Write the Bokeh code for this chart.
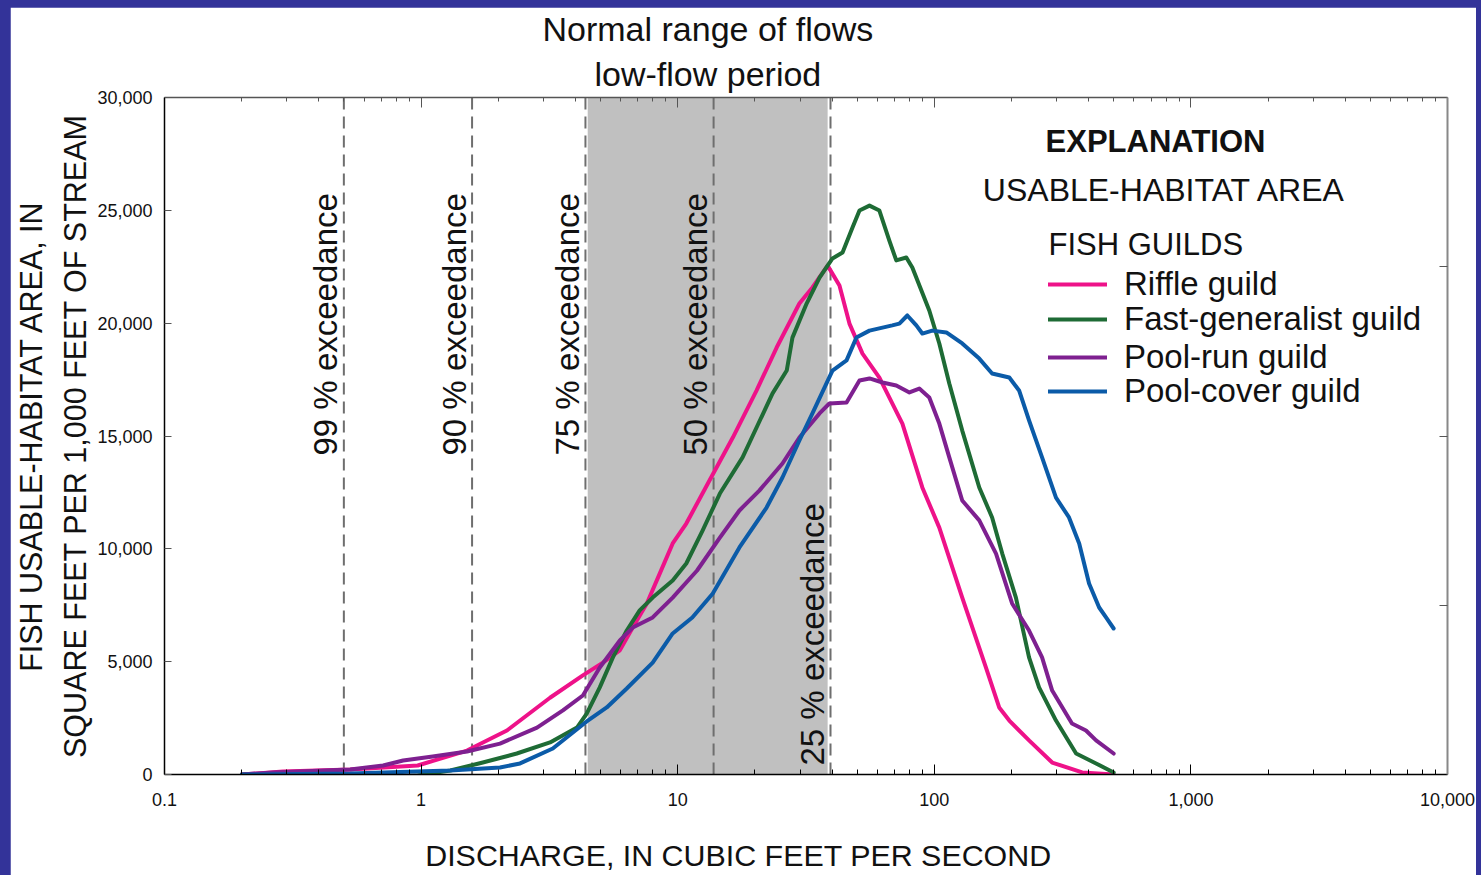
from math import pi
from bokeh.plotting import figure
from bokeh.layouts import column
from bokeh.models import (Range1d, LogAxis, LinearAxis, FixedTicker, NumeralTickFormatter,
                          CustomJSTickFormatter, Span, BoxAnnotation, Label, Legend, LegendItem, Title)
from bokeh.embed import file_html
from bokeh.resources import INLINE

# ---------------- data ----------------
riffle_q = [0.2, 0.29, 0.53, 0.97, 1.51, 2.16, 3.18, 4.27, 5.11, 5.95, 6.68, 7.58, 8.51, 9.56, 10.8,
            13.3, 16.4, 20.3, 24.3, 29.8, 33.5, 38.4, 42.7, 46.7, 52.5, 61.1, 75.1, 89.8, 104.6,
            128.5, 159, 179, 196, 234, 288, 377, 500]
riffle_area = [0, 130, 220, 400, 1060, 1950, 3400, 4390, 4960, 5500, 6510, 7580, 8900, 10240, 11120,
               13030, 14930, 17020, 18920, 20870, 21580, 22550, 21670, 19980, 18650, 17590, 15550, 12720, 10940,
               7840, 4740, 2970, 2390, 1510, 530, 90, 0]

fastgen_q = [0.2, 0.34, 0.63, 0.81, 0.97, 1.30, 1.74, 2.36, 3.18, 4.05, 4.42, 4.97, 5.59, 6.33, 7.11, 7.99,
             9.56, 10.8, 12.5, 14.6, 17.9, 23.4, 26.6, 28.0, 31.8, 35.7, 40.1, 43.9, 48.0, 51.1, 55.9,
             61.1, 66.8, 71.1, 77.8, 82.1, 95.6, 104.6, 114.4, 128.5, 149.7, 168, 184, 208, 234, 256,
             298, 357, 427, 500]
fastgen_area = [0, 0, -70, -120, -40, 180, 530, 930, 1420, 2080, 2700, 3860, 5190, 6380, 7270, 7840,
                8600, 9350, 10810, 12450, 14050, 16880, 17900, 19360, 20870, 22020, 22870, 23130, 24240, 24990, 25210,
                24990, 23660, 22780, 22910, 22470, 20560, 19100, 17330, 15240, 12720, 11390, 9790, 7840, 5190, 3860,
                2390, 930, 490, 90]

poolrun_q = [0.2, 0.266, 0.529, 0.711, 0.851, 1.11, 1.51, 2.03, 2.83, 3.57, 4.27, 4.97, 5.95, 6.68, 7.99,
             9.56, 11.9, 14.6, 17.4, 20.8, 25.6, 29.8, 35.7, 39.0, 45.5, 51.1, 55.9, 62.8, 71.1, 80.0,
             87.4, 95.6, 104.6, 114.4, 128.5, 149.7, 174, 201, 234, 263, 288, 344, 390, 427, 500]
poolrun_area = [0, 90, 220, 400, 620, 800, 1020, 1370, 2080, 2840, 3500, 4740, 5940, 6510, 6960,
                7840, 9040, 10500, 11700, 12580, 13780, 14930, 16000, 16440, 16480, 17460, 17550, 17370, 17240, 16930,
                17100, 16710, 15550, 14050, 12140, 11260, 9790, 7580, 6380, 5190, 3720, 2260, 1950, 1510, 930]

poolcover_q = [0.2, 0.529, 1.30, 2.03, 2.43, 3.26, 4.42, 5.29, 6.33, 7.99, 9.56, 11.4, 13.7, 17.4, 22.2,
               25.6, 29.8, 33.5, 38.0, 40.1, 45.5, 49.7, 55.9, 68.6, 73.1, 78.5, 85.1, 89.8, 98.2, 111.4,
               128.5, 149.7, 168, 196, 214, 234, 263, 298, 335, 367, 401, 439, 467, 500]
poolcover_area = [0, 40, 180, 310, 490, 1150, 2350, 2970, 3810, 4960, 6250, 6960, 8020, 10060, 11830,
                  13160, 14800, 16000, 17330, 17900, 18350, 19360, 19670, 19900, 19980, 20340, 19900, 19540, 19670, 19590,
                  19100, 18430, 17770, 17590, 17020, 15690, 14050, 12270, 11390, 10240, 8460, 7400, 6960, 6470]

guild_names = ["Riffle guild", "Fast-generalist guild", "Pool-run guild", "Pool-cover guild"]
guild_colors = ["#EE1289", "#1E6B35", "#7E2090", "#0B5BA8"]

exceed_q = [0.50, 1.58, 4.37, 13.8, 39.4]
exceed_text = ["99 % exceedance", "90 % exceedance", "75 % exceedance", "50 % exceedance", "25 % exceedance"]
low_flow_range = [4.46, 38.4]

x_ticks = [0.1, 1, 10, 100, 1000, 10000]
x_minor = [k * 10.0 ** e for e in range(-1, 4) for k in range(2, 10)]
y_ticks = [0, 5000, 10000, 15000, 20000, 25000, 30000]
right_ticks = [7500, 15000, 22500]

title_lines = ["Normal range of flows", "low-flow period"]
x_title = "DISCHARGE, IN CUBIC FEET PER SECOND"
y_title = "FISH USABLE-HABITAT AREA, IN\nSQUARE FEET PER 1,000 FEET OF STREAM"

# ---------------- layout constants ----------------
W, H = 1466, 868          # figure size
OX, OY = 10, 7            # figure offset in page (blue frame)
FL, FR, FT, FB = 164, 1447, 97, 774   # plot frame in page pixels

FONT = "Liberation Sans"
INK = "#111111"
NBSP = "\u00a0"


def x_at(px):
    return 10 ** ((px - FL) / (FR - FL) * 5 - 1)


def y_at(py):
    return (FB - py) / (FB - FT) * 30000


p = figure(width=W, height=H, x_axis_type="log",
           x_range=Range1d(0.1, 10000), y_range=Range1d(0, 30000),
           output_backend="svg", toolbar_location=None,
           min_border_left=FL - OX, min_border_right=W - (FR - OX),
           min_border_top=FT - OY, min_border_bottom=H - (FB - OY),
           outline_line_color=None, background_fill_color="white", border_fill_color="white")
p.margin = (OY, 1481 - OX - W, 0, OX)
p.grid.visible = False

# bottom axis (label shifted left of the frame centre with trailing no-break spaces)
xa = p.xaxis[0]
xa.ticker = FixedTicker(ticks=x_ticks, minor_ticks=x_minor)
xa.formatter = NumeralTickFormatter(format="0,0.[0]")
xa.axis_line_color = "black"
xa.axis_line_width = 1.5
xa.major_tick_in = 10
xa.major_tick_out = 0
xa.minor_tick_in = 5
xa.minor_tick_out = 0
xa.major_tick_line_color = "black"
xa.minor_tick_line_color = "black"
xa.major_label_standoff = 18
xa.major_label_text_font = FONT
xa.major_label_text_font_size = "18px"
xa.major_label_text_color = INK
xa.axis_label = x_title + NBSP * 16
xa.axis_label_standoff = 29
xa.axis_label_text_font = FONT
xa.axis_label_text_font_size = "30.4px"
xa.axis_label_text_font_style = "normal"
xa.axis_label_text_color = INK

# left axis
ya = p.yaxis[0]
ya.ticker = FixedTicker(ticks=y_ticks, minor_ticks=[])
ya.formatter = NumeralTickFormatter(format="0,0")
ya.axis_line_color = "black"
ya.axis_line_width = 1.5
ya.major_tick_in = 7
ya.major_tick_out = 0
ya.major_tick_line_color = "#555"
ya.minor_tick_line_color = None
ya.major_label_standoff = 12
ya.major_label_text_font = FONT
ya.major_label_text_font_size = "18px"
ya.major_label_text_color = INK
ya.axis_label = y_title
ya.axis_label_standoff = 2
ya.axis_label_text_font = FONT
ya.axis_label_text_font_size = "30.5px"
ya.axis_label_text_font_style = "normal"
ya.axis_label_text_line_height = 1.32
ya.axis_label_text_color = INK

# top axis
ta = LogAxis(ticker=FixedTicker(ticks=x_ticks, minor_ticks=x_minor),
             formatter=CustomJSTickFormatter(code="return ''"),
             axis_line_color="#555", axis_line_width=1.5,
             major_tick_in=10, major_tick_out=0, minor_tick_in=4, minor_tick_out=0,
             major_tick_line_color="#555", minor_tick_line_color="#555",
             major_label_standoff=0, major_label_text_font_size="0px")
p.add_layout(ta, "above")

# two-line heading above the low-flow band
p.add_layout(Title(text=title_lines[1], align="left", offset=430, standoff=10,
                   text_font=FONT, text_font_size="34px", text_font_style="normal",
                   text_color=INK), "above")
p.add_layout(Title(text=title_lines[0], align="left", offset=378, standoff=0,
                   text_font=FONT, text_font_size="34px", text_font_style="normal",
                   text_color=INK), "above")

# right axis
ra = LinearAxis(ticker=FixedTicker(ticks=right_ticks, minor_ticks=[]),
                formatter=CustomJSTickFormatter(code="return ''"),
                axis_line_color="#888", axis_line_width=2,
                major_tick_in=8, major_tick_out=0, major_tick_line_color="#555",
                minor_tick_line_color=None, major_label_standoff=0,
                major_label_text_font_size="0px")
p.add_layout(ra, "right")

# low-flow shading and exceedance lines
p.add_layout(BoxAnnotation(left=low_flow_range[0], right=low_flow_range[1],
                           fill_color="#C0C0C0", fill_alpha=1.0, line_alpha=0, level="underlay"))
for q in exceed_q:
    p.add_layout(Span(location=q, dimension="height", line_color="#6E6E6E",
                      line_width=2, line_dash="12 7", level="underlay"))

for q, t in zip(exceed_q, exceed_text):
    start_py = 765 if t.startswith("25") else 455
    p.add_layout(Label(x=q, y=y_at(start_py), x_offset=-18, text=t, angle=pi / 2,
                       text_align="left", text_baseline="middle",
                       text_font=FONT, text_font_size="33px", text_color=INK))

# curves
series = [(riffle_q, riffle_area), (fastgen_q, fastgen_area), (poolrun_q, poolrun_area),
          (poolcover_q, poolcover_area)]
renderers = []
for (qs, areas), color in zip(series, guild_colors):
    r = p.line(qs, areas, line_color=color, line_width=4, line_join="round", line_cap="round")
    renderers.append(r)

# one single-entry legend per guild so each row sits where the reference puts it
row_centres = [284, 319, 357, 391]
for name, r, yc in zip(guild_names, renderers, row_centres):
    p.add_layout(Legend(items=[LegendItem(label=name, renderers=[r])],
                        location=(1048 - FL, FB - (yc + 19)), orientation="vertical",
                        glyph_width=59, glyph_height=30, label_height=30, label_standoff=17,
                        spacing=0, padding=0, margin=0,
                        border_line_alpha=0, background_fill_alpha=0,
                        label_text_font=FONT, label_text_font_size="33px", label_text_color=INK))


def text_label(text, px, py, size, align="center", style="normal"):
    p.add_layout(Label(x=x_at(px), y=y_at(py), text=text,
                       text_align=align, text_baseline="middle",
                       text_font=FONT, text_font_size=f"{size}px", text_font_style=style,
                       text_color=INK))


text_label("EXPLANATION", 1155, 141, 31, style="bold")
text_label("USABLE-HABITAT AREA", 1164, 189, 32)
text_label("FISH GUILDS", 1048, 244, 31, align="left")

page = column(p, styles={"background-color": "#333399"})

open("out.html", "w").write(file_html(page, INLINE))
